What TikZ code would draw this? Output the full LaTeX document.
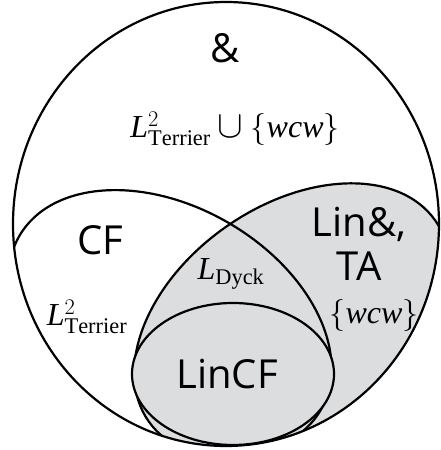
\documentclass[tikz,border=0pt]{standalone}
\usepackage{fix-cm}
\usepackage{fontspec}
\usepackage{amsmath}
\usepackage{tikz}
\usetikzlibrary{positioning}
\setmainfont{Liberation Serif}
\newfontfamily\handfont{Open Sans}
\definecolor{venngray}{RGB}{220,221,223}
\newcommand{\Lang}[1]{\mathit{L}_{\mathrm{#1}}}
\newcommand{\bigcupop}{\mathbin{\scalebox{1.2}{$\cup$}}}

\begin{document}
\begin{tikzpicture}[x=1pt,y=1pt]

    \def\d{10pt}

    % Looks of the set names, the languages and the set borders
    \tikzset{
        setname/.style={font=\handfont\fontsize{40}{46}\selectfont, inner sep=0pt},
        langname/.style={font=\fontsize{32}{38}\selectfont, inner sep=0pt},
        setline/.style={line width=2.2pt}
    }

    \useasboundingbox (0,0) rectangle (441,450);

    % Centres of the sets
    \coordinate (all) at (226,226);
    \coordinate (cf) at (170,127);
    \coordinate (lin) at (292,129);
    \coordinate (lincf) at (233,76);

    % The two crossing sets stay inside the whole one
    \begin{scope}
        \clip (all) ellipse [x radius=213, y radius=222];
        \fill[venngray, rotate around={35:(lin)}]
            (lin) ellipse [x radius=175, y radius=115];
        \begin{scope}[setline]
            \draw[rotate around={-30:(cf)}]
                (cf) ellipse [x radius=174, y radius=116];
            \draw[rotate around={35:(lin)}]
                (lin) ellipse [x radius=175, y radius=115];
        \end{scope}
    \end{scope}

    \fill[venngray] (lincf) ellipse [x radius=101, y radius=71];

    \begin{scope}[setline]
        \draw (all) ellipse [x radius=213, y radius=222];
        \draw (lincf) ellipse [x radius=101, y radius=71];
    \end{scope}

    \node[setname] (amp) at (225,402) {\&};
    \node[langname] (alllang) at (235,321)
        {$\Lang{Terrier}^2 \bigcupop \{\mathit{wcw}\}$};
    \node[setname] (cfname) at (100,210) {CF};
    \node[langname] (cflang) at (87,133) {$\Lang{Terrier}^2$};
    \node[langname] (dyck) at (231,176) {$\Lang{Dyck}$};
    \node[setname] (linand) at (359,226) {Lin\&,};
    \node[setname] (ta) [below=\d of linand] {TA};
    \node[langname] (wcw) at (374,134) {$\{\mathit{wcw}\}$};
    \node[setname] (lincfname) at (227,76) {LinCF};

\end{tikzpicture}
\end{document}
